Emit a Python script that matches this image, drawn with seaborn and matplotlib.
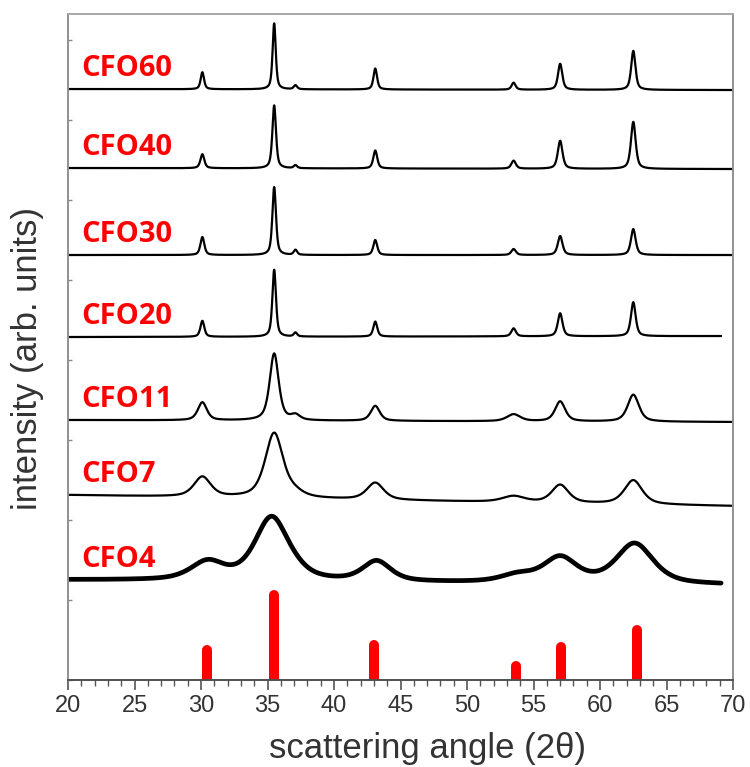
import matplotlib

matplotlib.use("Agg")
import matplotlib.pyplot as plt
import numpy as np
import pandas as pd
import seaborn as sns
from matplotlib.ticker import MultipleLocator

# sample names, top to bottom
SAMPLES = ["CFO60", "CFO40", "CFO30", "CFO20", "CFO11", "CFO7", "CFO4"]

# spinel reflections seen in the patterns (2theta, deg)
PEAK_POS = [30.1, 35.5, 37.1, 43.1, 53.5, 57.0, 62.5]
PEAK_POS_CFO4 = [30.5, 35.3, 37.1, 43.2, 53.8, 57.0, 62.6]

# baseline level at 20 deg and at 70 deg (arb. units, stacked)
BASE_LEFT = [591, 512, 425, 343, 260, 185, 100]
BASE_RIGHT = [590, 511, 425, 344, 258, 174, 95]
X_END = [70.0, 70.0, 70.0, 69.1, 70.0, 70.0, 69.1]

# peak heights above baseline, one per reflection
H_CFO60 = [17, 66, 4, 21, 7, 26, 39]
H_CFO40 = [14, 63, 3, 18, 8, 28, 47]
H_CFO30 = [18, 68, 5, 15, 6, 19, 26]
H_CFO20 = [16, 67, 4, 15, 8, 23, 34]
H_CFO11 = [18, 67, 5, 15, 7, 20, 27]
H_CFO7 = [20, 65, 4, 17, 6, 18, 24]
H_CFO4 = [18, 63, 3, 20, 7, 25, 40]

# peak widths (FWHM, deg)
W_CFO60 = [0.30, 0.28, 0.30, 0.32, 0.35, 0.38, 0.38]
W_CFO40 = [0.35, 0.32, 0.30, 0.35, 0.40, 0.42, 0.42]
W_CFO30 = [0.35, 0.32, 0.30, 0.35, 0.40, 0.42, 0.42]
W_CFO20 = [0.35, 0.32, 0.30, 0.35, 0.40, 0.42, 0.42]
W_CFO11 = [0.80, 0.80, 0.80, 0.80, 1.20, 0.90, 1.00]
W_CFO7 = [1.50, 1.60, 1.50, 1.50, 2.00, 1.50, 1.60]
W_CFO4 = [3.00, 3.00, 2.50, 2.50, 3.00, 3.00, 3.30]

HEIGHTS = [H_CFO60, H_CFO40, H_CFO30, H_CFO20, H_CFO11, H_CFO7, H_CFO4]
WIDTHS = [W_CFO60, W_CFO40, W_CFO30, W_CFO20, W_CFO11, W_CFO7, W_CFO4]

# reference pattern (stick positions and intensities)
REF_POS = [30.45, 35.5, 43.0, 53.7, 57.1, 62.75]
REF_INT = [35, 90, 40, 19, 38, 55]


def pseudo_voigt(x, c, h, w, eta=0.6):
    lor = 1.0 / (1.0 + ((x - c) / (w / 2.0)) ** 2)
    gau = np.exp(-4.0 * np.log(2.0) * ((x - c) / w) ** 2)
    return h * (eta * lor + (1.0 - eta) * gau)


def pattern(i):
    x = np.arange(20.0, X_END[i] + 1e-9, 0.02)
    y = BASE_LEFT[i] + (BASE_RIGHT[i] - BASE_LEFT[i]) * (x - 20.0) / 50.0
    pos = PEAK_POS_CFO4 if SAMPLES[i] == "CFO4" else PEAK_POS
    for c, h, w in zip(pos, HEIGHTS[i], WIDTHS[i]):
        y = y + pseudo_voigt(x, c, h, w)
    return pd.DataFrame({"angle": x, "intensity": y})


sns.set_theme(style="white")
plt.rcParams["font.family"] = ["Liberation Sans", "DejaVu Sans"]

fig = plt.figure(figsize=(7.5, 7.67), dpi=100)
ax = fig.add_axes([0.0907, 0.1134, 0.8867, 0.8683])

for i, name in enumerate(SAMPLES):
    df = pattern(i)
    sns.lineplot(
        data=df,
        x="angle",
        y="intensity",
        color="black",
        lw=3.4 if name == "CFO4" else 1.6,
        estimator=None,
        sort=False,
        ax=ax,
    )
    ax.text(
        21.0,
        BASE_LEFT[i] + 13,
        name,
        color="#ff0000",
        fontsize=21,
        fontweight="bold",
        family=["Open Sans", "DejaVu Sans"],
        va="baseline",
        ha="left",
    )

# reference sticks with rounded tops
cap = 5
sticks = ax.vlines(
    REF_POS,
    0,
    [v - cap for v in REF_INT],
    colors="#ff0000",
    linewidth=7.2,
)
sticks.set_capstyle("round")

ax.set_xlim(20, 70)
ax.set_ylim(0, 666)
ax.xaxis.set_major_locator(MultipleLocator(5))
ax.xaxis.set_minor_locator(MultipleLocator(1))
ax.yaxis.set_major_locator(MultipleLocator(80))
ax.set_yticklabels([])
ax.tick_params(
    axis="x", which="major", direction="out", length=7, width=1.2,
    color="#555555", labelsize=17, labelcolor="#333333", pad=4, bottom=True,
)
ax.tick_params(axis="x", which="minor", direction="out", length=4, width=1.0,
               color="#555555", bottom=True)
ax.tick_params(axis="y", which="major", direction="in", length=3, width=1.0,
               color="#888888", left=True)

ax.set_xlabel("scattering angle (2θ)", fontsize=25, color="#333333")
ax.set_ylabel("intensity (arb. units)", fontsize=25, color="#333333")
ax.xaxis.set_label_coords(0.54, -0.078)
ax.yaxis.set_label_coords(-0.036, 0.483)

for side, col in [("top", "#a8a8a8"), ("right", "#909090"),
                  ("left", "#909090"), ("bottom", "#505050")]:
    ax.spines[side].set_color(col)
    ax.spines[side].set_linewidth(1.4)

fig.savefig("out.png", dpi=100)
